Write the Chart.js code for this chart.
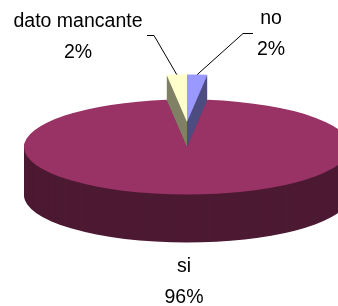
<!DOCTYPE html>
<html>
<head>
<meta charset="utf-8">
<script src="https://cdn.jsdelivr.net/npm/chart.js@4"></script>
<style>
  html, body { margin: 0; padding: 0; background: #fff; }
  #wrap { width: 338px; height: 306px; position: relative; }
</style>
</head>
<body>
<div id="wrap"><canvas id="chart"></canvas></div>
<script>
// data
const labels = ['no', 'si', 'dato mancante'];
const values = [2, 96, 2];

// look of the 3d pie
const topColors = ['#9999FF', '#993366', '#FFFFCC'];
const sideColors = ['#4D4D80', '#4D1A33', '#808066'];
const lift = [25, 0, 25];          // exploded slices pushed back (px on screen)
const CX = 187, CY = 147;          // centre of the top face
const RX = 163, RY = 47.5;         // radii of the top face ellipse
const DEPTH = 48;

// label boxes: centre x, first baseline, leader start
const labelPos = [
    { x: 271, y: 24, lead: [[253, 33], [243, 33]] },
    { x: 184, y: 272 },
    { x: 78, y: 27, lead: [[147, 35], [154, 35]] }
];

const total = values.reduce((a, b) => a + b, 0);

const pie3d = {
    id: 'pie3d',
    beforeDatasetsDraw(chart) {
        const ctx = chart.ctx;
        const arcs = chart.getDatasetMeta(0).data;
        const r = arcs[0].outerRadius;
        const ox = arcs[0].x, oy = arcs[0].y;
        const sx = RX / r, sy = RY / r;

        // back (exploded) slices first, then the big one in front
        const order = arcs.map((a, i) => i).sort((a, b) => lift[b] - lift[a]);
        order.forEach(i => {
            const arc = arcs[i];
            const ghost = Object.create(arc);
            ghost.options = Object.assign({}, arc.options, {
                backgroundColor: sideColors[i], borderColor: sideColors[i]
            });
            for (let d = DEPTH; d >= 0; d--) {
                ctx.save();
                ctx.translate(CX, CY - lift[i] + d);
                ctx.scale(sx, sy);
                ctx.translate(-ox, -oy);
                (d === 0 ? arc : ghost).draw(ctx);
                ctx.restore();
            }
        });
        return false;
    },
    afterDraw(chart) {
        const ctx = chart.ctx;
        const arcs = chart.getDatasetMeta(0).data;
        ctx.save();
        ctx.fillStyle = '#000';
        ctx.strokeStyle = '#000';
        ctx.lineWidth = 1;
        ctx.font = '19.5px "Liberation Sans", Arial, sans-serif';
        ctx.textAlign = 'center';
        ctx.textBaseline = 'alphabetic';
        arcs.forEach((arc, i) => {
            const p = labelPos[i];
            const pct = Math.round(values[i] / total * 100) + '%';
            ctx.fillText(labels[i], p.x, p.y);
            ctx.fillText(pct, p.x, p.y + 31);
            if (p.lead) {
                const mid = (arc.startAngle + arc.endAngle) / 2;
                const ex = CX + Math.cos(mid) * RX;
                const ey = CY - lift[i] + Math.sin(mid) * RY;
                ctx.beginPath();
                ctx.moveTo(p.lead[0][0], p.lead[0][1] + 0.5);
                ctx.lineTo(p.lead[1][0], p.lead[1][1] + 0.5);
                ctx.lineTo(ex, ey);
                ctx.stroke();
            }
        });
        ctx.restore();
    }
};

new Chart(document.getElementById('chart'), {
    type: 'pie',
    data: {
        labels: labels,
        datasets: [{
            data: values,
            backgroundColor: topColors,
            borderWidth: 0
        }]
    },
    options: {
        responsive: true,
        maintainAspectRatio: false,
        animation: false,
        events: [],
        layout: { padding: 0 },
        plugins: {
            legend: { display: false },
            tooltip: { enabled: false }
        }
    },
    plugins: [pie3d]
});
</script>
</body>
</html>
